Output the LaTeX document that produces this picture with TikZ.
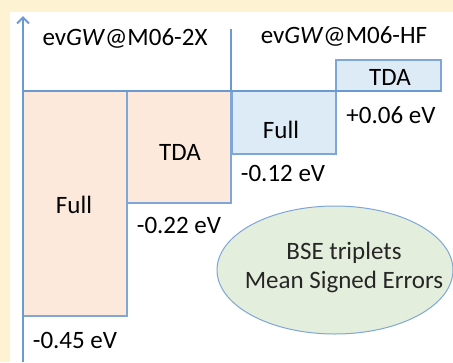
\documentclass[tikz,border=0pt]{standalone}
\usepackage{fontspec}
\setmainfont{Carlito}
\usetikzlibrary{arrows.meta,shapes.geometric}
\definecolor{cream}{HTML}{FDF2D2}
\definecolor{axisblue}{HTML}{6A9AD0}
\definecolor{edgeblue}{HTML}{7EA6D8}
\definecolor{peach}{HTML}{FCE9DC}
\definecolor{iceblue}{HTML}{DDEBF7}
\definecolor{mint}{HTML}{E4EEDC}
\definecolor{inkgray}{HTML}{262626}
\tikzset{
  bar/.style={draw=edgeblue, line width=1.2pt, inner sep=0pt, outer sep=0pt},
  lbl/.style={font=\fontsize{25}{29}\selectfont, text=black, inner sep=0pt},
  axisline/.style={draw=axisblue, line width=2.6pt},
}
\begin{document}
\begin{tikzpicture}[x=1pt,y=-1pt]
\useasboundingbox (0,0) rectangle (453,362);
\fill[cream] (0,0) rectangle (453,362);
\fill[white] (10,12) rectangle (453,362);
% bars
\node[bar, fill=peach, anchor=north west, minimum width=104pt, minimum height=225pt] (full2x) at (23,91) {};
\node[bar, fill=peach, anchor=north west, minimum width=104pt, minimum height=112pt] (tda2x) at (127,91) {};
\node[bar, fill=iceblue, anchor=north west, minimum width=104pt, minimum height=63pt] (fullhf) at (232,91) {};
\node[bar, fill=iceblue, anchor=south west, minimum width=105pt, minimum height=31pt] (tdahf) at (336,91) {};
% axes
\coordinate (ybot) at (23,362);
\coordinate (ytop) at (23,16);
\coordinate (xl) at (23,91);
\coordinate (xr) at (441,91);
\coordinate (dtop) at (231,29);
\coordinate (dbot) at (231,91);
\draw[axisline, -{Straight Barb[length=6pt,width=12pt,line width=2pt]}] (ybot) -- (ytop);
\draw[axisline] (xl) -- (xr);
\draw[axisline] (dtop) -- (dbot);
% labels
\node[lbl] (h2x) at (125,38) {ev\textit{GW}@M06-2X};
\node[lbl] (hhf) at (344,36) {ev\textit{GW}@M06-HF};
\node[lbl] (t1) at (390,77) {TDA};
\node[lbl] (v1) at (391,115) {+0.06 eV};
\node[lbl] (f1) at (281,130) {Full};
\node[lbl] (v2) at (283,173) {-0.12 eV};
\node[lbl] (t2) at (180,152) {TDA};
\node[lbl] (f2) at (74,205) {Full};
\node[lbl] (v3) at (179,225) {-0.22 eV};
\node[lbl] (v4) at (75,340) {-0.45 eV};
% ellipse
\node[ellipse, draw=edgeblue, line width=1pt, fill=mint, minimum width=236pt, minimum height=128pt, inner sep=0pt] (bse) at (335,270) {};
\node[lbl, text=inkgray, align=center] (bset) at (344,267) {BSE triplets\\Mean Signed Errors};
\end{tikzpicture}
\end{document}
